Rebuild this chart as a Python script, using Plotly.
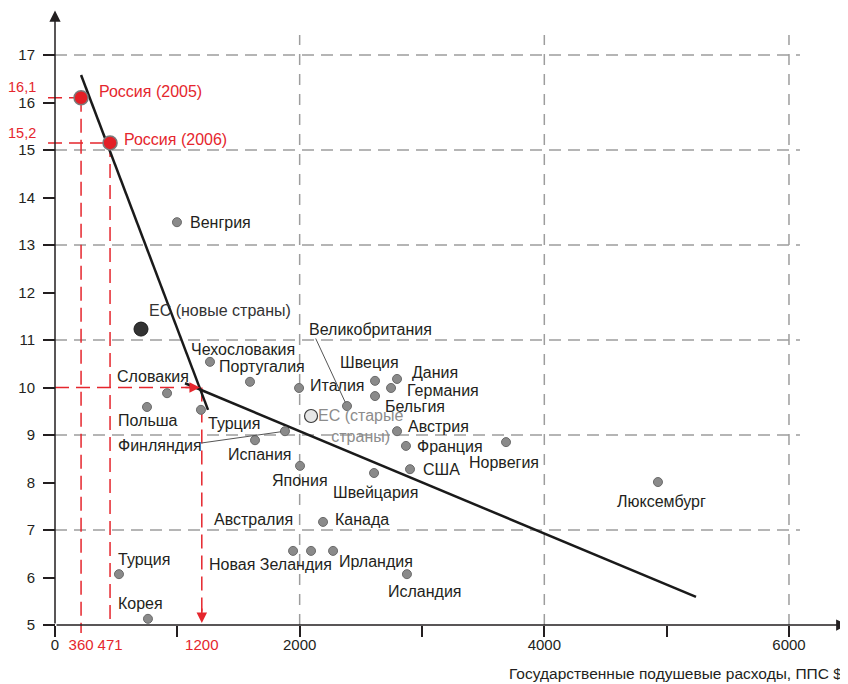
import plotly.graph_objects as go

# ---------------- data ----------------
names = ["Венгрия", "Чехословакия", "Португалия", "Италия", "Словакия", "Польша",
         "Турция", "Финляндия", "Испания", "Япония", "Великобритания", "Швеция",
         "Дания", "Германия", "Бельгия", "Австрия", "Франция", "США", "Швейцария",
         "Норвегия", "Люксембург", "Канада", "Австралия", "Новая Зеландия",
         "Ирландия", "Исландия", "Турция", "Корея"]
spend = [997, 1267, 1594, 1995, 916, 752,
         1193, 1880, 1635, 2003, 2387, 2616,
         2796, 2747, 2616, 2796, 2869, 2902, 2608,
         3687, 4929, 2191, 1946, 2093,
         2273, 2877, 523, 760]
mortality = [13.48, 10.54, 10.12, 9.99, 9.88, 9.59,
             9.53, 9.08, 8.89, 8.35, 9.61, 10.14,
             10.18, 9.99, 9.82, 9.08, 8.77, 8.28, 8.20,
             8.85, 8.01, 7.17, 6.56, 6.56,
             6.56, 6.07, 6.07, 5.13]

eu_new_name = "ЕС (новые страны)"
eu_new = (703, 11.23)
eu_old_name = "ЕС (старые<br>страны)"
eu_old = (2093, 9.40)

russia_names = ["Россия (2005)", "Россия (2006)"]
russia_x = [213, 450]
russia_y = [16.1, 15.15]
russia_xlabels = ["360", "471"]
russia_ylabels = ["16,1", "15,2"]

threshold_x = 1200
threshold_y = 10

trend1_x = [213, 1251]
trend1_y = [16.58, 9.53]
trend2_x = [1063, 5240]
trend2_y = [10.09, 5.59]

y_ticks = list(range(5, 18))
x_ticks = [0, 1000, 2000, 3000, 4000, 5000, 6000]
x_label_vals = [0, 2000, 4000, 6000]
x_title = "Государственные подушевые расходы, ППС $"

# ---------------- layout geometry ----------------
W, H = 840, 676              # page body adds an 8px margin
X0PX, KX = 47, 0.12233       # px of x=0 inside figure, px per unit
Y5PX, KY = 617, 47.5         # px of y=5 inside figure, px per unit
xr = [-X0PX / KX, (W - X0PX) / KX]
yr = [5 - (H - Y5PX) / KY, 5 + Y5PX / KY]

TXT = "#231f20"
RED = "#e5262d"
GRID = "#9d9d9d"
FONT = "Liberation Sans, Arial, sans-serif"
LFS = 16

# label placement: (xanchor, xshift, yshift)
label_pos = [("left", 11, 0), ("left", -21, 12), ("left", -33, 15), ("left", 9, 2),
             ("left", -52, 17), ("left", -31, -14), ("left", 5, -14), ("left", -169, -14),
             ("center", 5, -14), ("center", 0, -15), ("left", -40, 77), ("center", -6, 18),
             ("left", 13, 6), ("left", 14, -3), ("left", 8, -10), ("left", 9, 5),
             ("left", 9, -1), ("left", 11, 0), ("center", 1, -19), ("center", -2, -20),
             ("center", 4, -19), ("left", 10, 2), ("right", 2, 31), ("center", -41, -14),
             ("left", 4, -11), ("center", 18, -17), ("left", -3, 15), ("left", -32, 15)]
leaders = {"Финляндия": (-85, 12), "Великобритания": (-32, -69)}

fig = go.Figure()

shapes = []
dash_red = "14px,7px"
for gy in [7, 9, 11, 13, 15, 17]:
    shapes.append(dict(type="line", xref="x", yref="y", x0=0, x1=6090, y0=gy, y1=gy,
                       line=dict(color=GRID, width=1.5, dash="12px,7px"), layer="below"))
for gx in [2000, 4000, 6000]:
    shapes.append(dict(type="line", xref="x", yref="y", x0=gx, x1=gx, y0=5, y1=17.42,
                       line=dict(color=GRID, width=1.5, dash="11px,9px"), layer="below"))
for rx, ry in zip(russia_x, russia_y):
    shapes.append(dict(type="line", xref="x", yref="y", x0=-57, x1=rx, y0=ry, y1=ry,
                       line=dict(color=RED, width=1.5, dash=dash_red), layer="below"))
shapes.append(dict(type="line", xref="x", yref="y", x0=russia_x[0], x1=russia_x[0],
                   y0=russia_y[0], y1=4.83, line=dict(color=RED, width=1.5, dash=dash_red),
                   layer="below"))
shapes.append(dict(type="line", xref="x", yref="y", x0=russia_x[1], x1=russia_x[1],
                   y0=russia_y[1], y1=5, line=dict(color=RED, width=1.5, dash=dash_red),
                   layer="below"))
shapes.append(dict(type="line", xref="x", yref="y", x0=0, x1=threshold_x - 30,
                   y0=threshold_y, y1=threshold_y,
                   line=dict(color=RED, width=1.5, dash=dash_red), layer="below"))
shapes.append(dict(type="line", xref="x", yref="y", x0=threshold_x, x1=threshold_x,
                   y0=threshold_y, y1=5.1,
                   line=dict(color=RED, width=1.5, dash=dash_red), layer="below"))

fig.add_trace(go.Scatter(x=trend1_x, y=trend1_y, mode="lines",
                         line=dict(color="#1a1a1a", width=2.5), hoverinfo="skip"))
fig.add_trace(go.Scatter(x=trend2_x, y=trend2_y, mode="lines",
                         line=dict(color="#1a1a1a", width=2.5), hoverinfo="skip"))

fig.add_trace(go.Scatter(x=spend, y=mortality, mode="markers", text=names,
                         marker=dict(size=9, color="#8a8a8a",
                                     line=dict(color="#6a6a6a", width=1))))
fig.add_trace(go.Scatter(x=[eu_new[0]], y=[eu_new[1]], mode="markers",
                         marker=dict(size=14, color="#333333",
                                     line=dict(color="#1a1a1a", width=1))))
fig.add_trace(go.Scatter(x=[eu_old[0]], y=[eu_old[1]], mode="markers",
                         marker=dict(size=13, color="#e6e6e6",
                                     line=dict(color="#3a3a3a", width=1.2))))
fig.add_trace(go.Scatter(x=russia_x, y=russia_y, mode="markers",
                         marker=dict(size=14, color="#e41f26",
                                     line=dict(color="#7a7a7a", width=1.5))))

# label axis: black round numbers plus red Russia / threshold values
lab_vals = [0] + russia_x + [threshold_x] + x_label_vals[1:]
lab_text = (["0"] + ["<span style='color:%s'>%s</span>" % (RED, t)
                     for t in russia_xlabels + [str(threshold_x)]]
            + [str(v) for v in x_label_vals[1:]])
fig.add_trace(go.Scatter(x=lab_vals, y=[5] * len(lab_vals), xaxis="x2", mode="markers",
                         marker=dict(opacity=0), hoverinfo="skip"))

ann = []
for n, x, y, (xa, dx, dy) in zip(names, spend, mortality, label_pos):
    ann.append(dict(x=x, y=y, text=n, showarrow=False, xanchor=xa, yanchor="middle",
                    xshift=dx, yshift=dy, font=dict(size=LFS, color=TXT, family=FONT)))
    if n in leaders:
        ax, ay = leaders[n]
        ann.append(dict(x=x, y=y, text="", showarrow=True, arrowhead=0, ax=ax, ay=ay,
                        arrowwidth=1, arrowcolor="#555555", standoff=4))
ann.append(dict(x=eu_new[0], y=eu_new[1], text=eu_new_name, showarrow=False,
                xanchor="left", yanchor="middle", xshift=6, yshift=19,
                font=dict(size=LFS, color="#333333", family=FONT)))
ann.append(dict(x=eu_old[0], y=eu_old[1], text=eu_old_name, showarrow=False,
                xanchor="center", yanchor="middle", xshift=49, yshift=-10, align="center",
                font=dict(size=LFS, color="#8c8c8c", family=FONT)))
for n, x, y, dx, dy in zip(russia_names, russia_x, russia_y, [16, 12], [6, 3]):
    ann.append(dict(x=x, y=y, text=n, showarrow=False, xanchor="left", yanchor="middle",
                    xshift=dx, yshift=dy, font=dict(size=LFS, color=RED, family=FONT)))
for lab, y, dy in zip(russia_ylabels, russia_y, [11, 10]):
    ann.append(dict(x=0, y=y, text=lab, showarrow=False, xanchor="right", yanchor="middle",
                    xshift=-18, yshift=dy, borderpad=0,
                    font=dict(size=14.5, color=RED, family=FONT)))
ann.append(dict(x=0, y=yr[1] - 0.05, ax=0, ay=5, axref="x", ayref="y", text="",
                showarrow=True, arrowhead=2, arrowsize=1.5, arrowwidth=1.5, arrowcolor=TXT))
ann.append(dict(x=xr[1] - 5, y=5, ax=0, ay=5, axref="x", ayref="y", text="",
                showarrow=True, arrowhead=2, arrowsize=1.5, arrowwidth=1.5, arrowcolor=TXT))
ann.append(dict(x=threshold_x - 15, y=threshold_y, ax=-16, ay=0, text="", showarrow=True,
                arrowhead=2, arrowsize=1.4, arrowwidth=1.5, arrowcolor=RED))
ann.append(dict(x=threshold_x, y=5.04, ax=0, ay=-16, text="", showarrow=True,
                arrowhead=2, arrowsize=1.4, arrowwidth=1.5, arrowcolor=RED))
ann.append(dict(x=1, y=(H - 665) / H, xref="paper", yref="paper", text=x_title,
                showarrow=False, xanchor="right", yanchor="middle", xshift=-4,
                font=dict(size=15.5, color=TXT, family=FONT)))

fig.update_layout(
    width=W, height=H, margin=dict(l=0, r=0, t=0, b=0, pad=0),
    paper_bgcolor="white", plot_bgcolor="white", showlegend=False,
    font=dict(family=FONT, color=TXT, size=15),
    shapes=shapes, annotations=ann,
    xaxis=dict(range=xr, anchor="free", position=(H - Y5PX) / H, showgrid=False,
               zeroline=False, showline=False, tickmode="array", tickvals=x_ticks,
               showticklabels=False, ticks="outside", ticklen=11, tickwidth=1.5,
               tickcolor=TXT),
    xaxis2=dict(range=xr, overlaying="x", anchor="free", position=(H - Y5PX) / H,
                side="bottom", showgrid=False, zeroline=False, showline=False,
                tickmode="array", tickvals=lab_vals, ticktext=lab_text, ticks="",
                ticklabelstandoff=9, tickfont=dict(size=15, color=TXT)),
    yaxis=dict(range=yr, anchor="free", position=X0PX / W, showgrid=False,
               zeroline=False, showline=False, tickmode="array", tickvals=y_ticks,
               ticks="outside", ticklen=12, tickwidth=1.5, tickcolor=TXT,
               ticklabelstandoff=5, tickfont=dict(size=15, color=TXT)),
)
fig.write_html("out.html")
